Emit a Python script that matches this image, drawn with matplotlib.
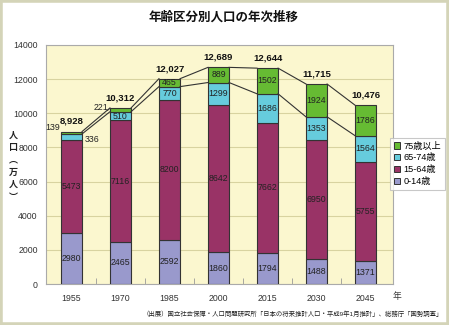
import matplotlib
matplotlib.use("Agg")
import matplotlib.pyplot as plt
import numpy as np
from matplotlib.patches import Rectangle, Patch

plt.rcParams['font.family'] = ['Liberation Sans', 'Noto Sans CJK JP', 'DejaVu Sans']

years = ['1955', '1970', '1985', '2000', '2015', '2030', '2045']
age_0_14 = [2980, 2465, 2592, 1860, 1794, 1488, 1371]
age_15_64 = [5473, 7116, 8200, 8642, 7662, 6950, 5755]
age_65_74 = [336, 510, 770, 1299, 1686, 1353, 1564]
age_75p = [139, 221, 465, 889, 1502, 1924, 1786]
totals = [8928, 10312, 12027, 12689, 12644, 11715, 10476]
series_labels = ['0-14歳', '15-64歳', '65-74歳', '75歳以上']
colors = ['#9999cc', '#993366', '#66ccdd', '#66bb33']

W, H = 449, 325
fig = plt.figure(figsize=(W / 100, H / 100), dpi=100)
fig.patch.set_facecolor('white')
fig.patches.append(Rectangle((0, 0), 1, 1, transform=fig.transFigure, fill=False,
                             edgecolor='#d4d4b8', linewidth=4, zorder=10))

ax = fig.add_axes([46 / W, 1 - 284 / H, (393 - 46) / W, (284 - 45) / H])
ax.set_facecolor('#fbf7cf')
x = np.arange(len(years))
bw = 0.43
series = [age_0_14, age_15_64, age_65_74, age_75p]
bottom = np.zeros(len(years))
cums = []
for vals, col in zip(series, colors):
    vals = np.array(vals, dtype=float)
    ax.bar(x, vals, bw, bottom=bottom, color=col, edgecolor='#333333', linewidth=0.8, zorder=3)
    for i, v in enumerate(vals):
        mid = bottom[i] + v / 2
        if v < 400:
            continue
        ax.text(x[i], mid, f'{int(v)}', ha='center', va='center', fontsize=6.3,
                color='#222222', zorder=5)
    bottom = bottom + vals
    cums.append(bottom.copy())

# small segment labels outside
small_offsets = {
    (0, 3): (-0.02, 220, 'right'),
    (0, 2): (0.06, -330, 'left'),
    (1, 3): (-0.03, 20, 'right'),
}
for (i, s), (dx, dy, ha) in small_offsets.items():
    v = series[s][i]
    cx = x[i] - bw / 2 + dx if ha == 'right' else x[i] + bw / 2 + dx
    ax.text(cx, cums[s][i] + dy, f'{v}', ha=ha, va='center', fontsize=6.3,
            color='#222222', zorder=5)
# leader for 221
ax.plot([x[1] - bw / 2 - 0.05, x[1] - bw / 2], [cums[3][1] - 150, cums[3][1] - 20],
        color='#333333', lw=0.6, zorder=4)

# connector lines
for level in (cums[2], cums[3]):
    for i in range(len(years) - 1):
        ax.plot([x[i] + bw / 2, x[i + 1] - bw / 2], [level[i], level[i + 1]],
                color='#333333', lw=0.8, zorder=4)

for i, t in enumerate(totals):
    ax.text(x[i], cums[3][i] + 330, f'{t:,}', ha='center', va='bottom', fontsize=6.8,
            fontweight='bold', color='#111111', zorder=5)

ax.set_xlim(-0.52, 6.56)
ax.set_ylim(0, 14000)
ax.set_yticks(np.arange(0, 14001, 2000))
ax.yaxis.grid(True, color='#d8d3a0', lw=0.8, zorder=0)
ax.set_axisbelow(True)
ax.set_xticks(x)
ax.set_xticklabels(years)
ax.set_xticks(np.arange(0.5, 6.5, 1), minor=True)
ax.tick_params(axis='x', which='major', length=0, labelsize=6.3, pad=7, colors='#333333')
ax.tick_params(axis='x', which='minor', length=4, direction='in', color='#999999')
ax.tick_params(axis='y', length=0, labelsize=6.3, pad=6, colors='#333333')
for sp in ax.spines.values():
    sp.set_color('#aaaaaa')
    sp.set_linewidth(0.8)

fig.text(224 / W, 1 - 17 / H, '年齢区分別人口の年次推移', ha='center', va='center',
         fontsize=9, fontweight='bold', color='#111111')

for k, ch in enumerate(['人', '口', '︵', '万', '人', '︶']):
    fig.text(13 / W, 1 - (135 + 12.4 * k) / H, ch, ha='center', va='center',
             fontsize=6.5, fontweight='bold', color='#222222')

fig.text(397 / W, 1 - 297 / H, '年', ha='center', va='center', fontsize=6.3, color='#333333')

fig.text(443 / W, 1 - 314 / H,
         '（出展）国立社会保障・人口問題研究所「日本の将来推計人口・平成9年1月推計」、総務庁「国勢調査」',
         ha='right', va='center', fontsize=4.6, color='#222222')

handles = [Patch(facecolor=c, edgecolor='#333333', linewidth=0.7, label=l)
           for c, l in zip(colors, series_labels)][::-1]
leg = fig.legend(handles=handles, loc='upper left', bbox_to_anchor=(390 / W, 1 - 138 / H),
                 fontsize=6.6, frameon=True, fancybox=False, handlelength=0.7,
                 handleheight=0.7, handletextpad=0.4, borderpad=0.4, labelspacing=0.3,
                 borderaxespad=0)
leg.get_frame().set_edgecolor('#bbbbbb')
leg.get_frame().set_linewidth(0.8)

fig.savefig('out.png', dpi=100, facecolor='white')
